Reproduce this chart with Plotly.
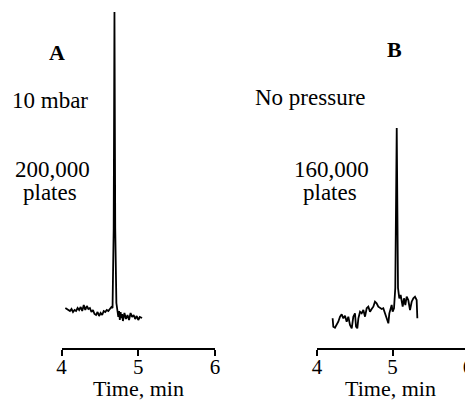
import plotly.graph_objects as go

# Panel A: 10 mbar, 200,000 plates
time_a = [4.05, 4.07, 4.09, 4.11, 4.13, 4.15, 4.17, 4.19, 4.21, 4.23, 4.25, 4.27, 4.29, 4.31,
          4.33, 4.35, 4.37, 4.39, 4.41, 4.43, 4.45, 4.47, 4.49, 4.51, 4.53, 4.55, 4.57, 4.59,
          4.61, 4.63, 4.65, 4.665, 4.68, 4.69, 4.70, 4.715, 4.73, 4.74, 4.75, 4.76, 4.77, 4.78,
          4.79, 4.80, 4.82, 4.84, 4.86, 4.88, 4.90, 4.92, 4.94, 4.96, 4.98, 5.00, 5.02, 5.05]
signal_a = [40, 39, 38, 37, 39, 36, 38, 37, 40, 38, 41, 37, 43, 38,
            42, 39, 40, 36, 38, 34, 33, 36, 32, 35, 33, 37, 36, 38,
            37, 39, 41, 40, 120, 336, 120, 45, 36, 31, 37, 28, 36, 30,
            34, 27, 35, 29, 33, 28, 35, 31, 33, 29, 32, 28, 31, 30]

# Panel B: no pressure, 160,000 plates
time_b = [4.207, 4.216, 4.238, 4.260, 4.282, 4.305, 4.327, 4.349, 4.371, 4.393, 4.415, 4.437,
          4.460, 4.481, 4.503, 4.517, 4.534, 4.548, 4.570, 4.592, 4.614, 4.636, 4.658, 4.680,
          4.702, 4.724, 4.746, 4.768, 4.790, 4.812, 4.834, 4.857, 4.878, 4.901, 4.923, 4.945,
          4.958, 4.976, 4.989, 5.002, 5.020, 5.037, 5.056, 5.073, 5.082, 5.090, 5.108, 5.122,
          5.135, 5.152, 5.170, 5.188, 5.209, 5.232, 5.254, 5.276, 5.298, 5.320, 5.329]
signal_b = [29.7, 21.3, 20.3, 23, 26.3, 31.3, 33.7, 29.7, 32.3, 26.3, 31.3, 23,
            19.7, 31.3, 34.7, 21.3, 19.7, 29.7, 36.3, 34.7, 38, 31.3, 39.7, 41.3,
            36.3, 39, 41.3, 46.3, 44.7, 41.3, 39.7, 39, 39.7, 34.7, 28, 24.7,
            34.7, 39.7, 43, 36.3, 39.7, 60, 220, 60, 56.3, 49.7, 53, 44.7,
            41.3, 49.7, 43, 51.3, 48, 38, 46.3, 49.7, 51.3, 48, 29.7]

x_ticks = [4, 5, 6]
x_title = "Time, min"
panel_labels = ["A", "B"]
condition_labels = ["10 mbar", "No pressure"]
plate_counts = ["200,000", "160,000"]
plate_word = "plates"

FONT = "'Liberation Serif', 'Times New Roman', serif"
# page body has an 8px margin, so the figure is drawn 8px smaller
W, H = 465, 392

fig = go.Figure()
fig.add_trace(go.Scatter(x=time_a, y=signal_a, mode="lines", xaxis="x", yaxis="y",
                         line=dict(color="black", width=1.8), showlegend=False))
fig.add_trace(go.Scatter(x=time_b, y=signal_b, mode="lines", xaxis="x2", yaxis="y2",
                         line=dict(color="black", width=1.8), showlegend=False))

axis_common = dict(range=[4, 6], tickvals=x_ticks, ticktext=[str(v) for v in x_ticks],
                   showline=True, linecolor="black", linewidth=2,
                   ticks="outside", ticklen=6, tickwidth=2, tickcolor="black",
                   ticklabelstandoff=-7, ticklabeloverflow="allow",
                   showgrid=False, zeroline=False, fixedrange=True, automargin=False,
                   tickfont=dict(family=FONT, size=21, color="black"))

fig.update_layout(
    width=W, height=H, autosize=False,
    margin=dict(l=0, r=0, t=0, b=0, pad=0),
    paper_bgcolor="white", plot_bgcolor="white",
    font=dict(family=FONT, color="black"),
    xaxis=dict(domain=[53.5 / W, 207 / W], anchor="y", **axis_common),
    xaxis2=dict(domain=[309 / W, 460 / W], anchor="y2", **axis_common),
    yaxis=dict(domain=[52 / H, 1], range=[0, 340], visible=False, anchor="x",
               automargin=False),
    yaxis2=dict(domain=[52 / H, 1], range=[0, 340], visible=False, anchor="x2",
                automargin=False),
)

ann_font = dict(family=FONT, size=23, color="black")


def add_text(px, py, text, font, yanchor="middle"):
    fig.add_annotation(x=px / W, y=1 - py / H, xref="paper", yref="paper",
                       xanchor="center", yanchor=yanchor,
                       text=text, showarrow=False, font=font)


# (label x, label y, cond x, cond y, count x, plates x, title x)
positions = [
    (49, 44, 42, 92, 44.5, 41.5, 130),
    (386, 42, 302, 90, 323, 322, 382),
]
for i in range(2):
    lx, ly, cx, cy, nx, plx, tx = positions[i]
    add_text(lx, ly, "<b>" + panel_labels[i] + "</b>",
             dict(family=FONT, size=22, color="black"))
    add_text(cx, cy, condition_labels[i], ann_font)
    add_text(nx, 161, plate_counts[i], ann_font)
    add_text(plx, 185, plate_word, ann_font)
    add_text(tx, H + 3, x_title, dict(family=FONT, size=22, color="black"), yanchor="bottom")

fig.write_html("out.html")
